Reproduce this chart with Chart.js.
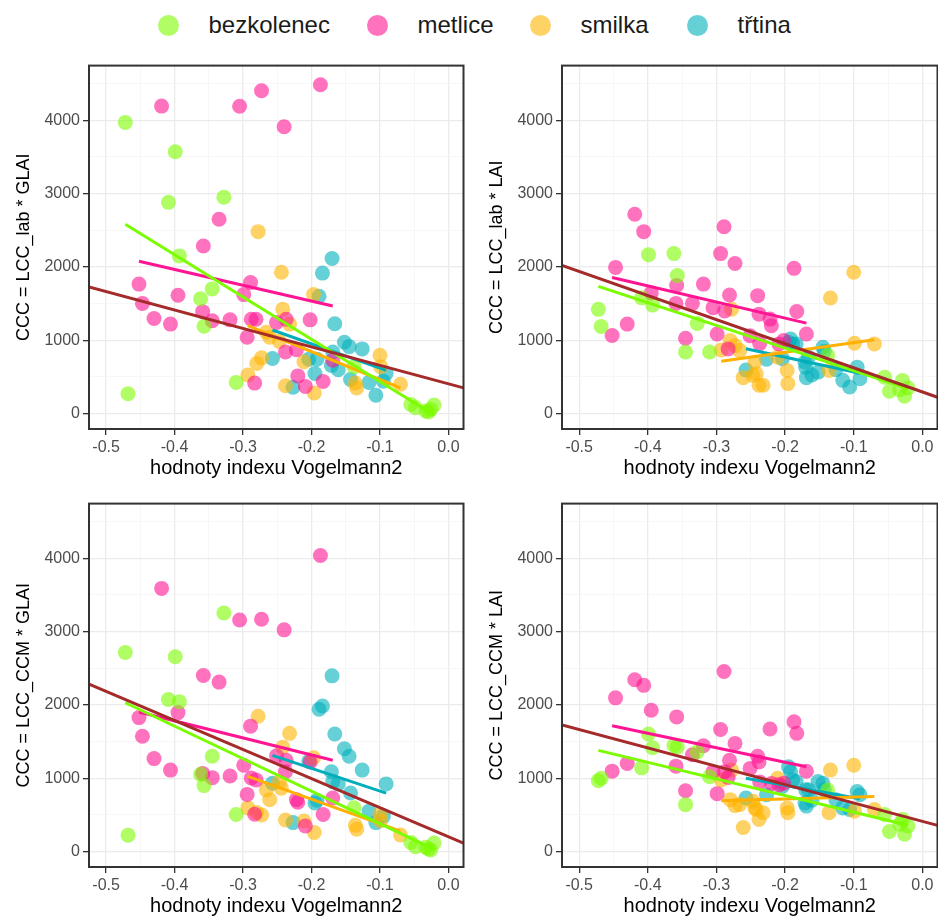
<!DOCTYPE html>
<html>
<head>
<meta charset="utf-8">
<script src="https://cdn.jsdelivr.net/npm/chart.js@4.4.0/dist/chart.umd.min.js"></script>
<style>
  body { margin: 0; background: #fff; width: 938px; height: 917px; overflow: hidden; position: relative;
         font-family: "Liberation Sans", Arial, sans-serif; }
  canvas { position: absolute; }
  .key { position: absolute; top: 13px; height: 24px; display: flex; align-items: center; font-size: 24px; color: #1a1a1a; }
  .dot { width: 21px; height: 21px; border-radius: 50%; margin-right: 30px; }
</style>
</head>
<body>
<div id="legend"></div>
<canvas id="c1" width="471" height="433" style="left:0;top:53px"></canvas>
<canvas id="c2" width="472" height="433" style="left:473px;top:53px"></canvas>
<canvas id="c3" width="471" height="433" style="left:0;top:491px"></canvas>
<canvas id="c4" width="472" height="433" style="left:473px;top:491px"></canvas>
<script>
  /* data
  -----------------------------------------------*/
  const SPECIES = ['bezkolenec', 'metlice', 'smilka', 'třtina'];

  // hodnoty indexu Vogelmann2 (same for all four panels)
  const X_BEZKOLENEC = [-0.472, -0.468, -0.409, -0.399, -0.393, -0.362, -0.357, -0.345, -0.328, -0.310, -0.138, -0.055, -0.048, -0.033, -0.029, -0.026, -0.021];
  const X_METLICE = [-0.452, -0.447, -0.430, -0.419, -0.406, -0.395, -0.359, -0.358, -0.345, -0.335, -0.319, -0.305, -0.299, -0.294, -0.289,
                     -0.288, -0.283, -0.281, -0.273, -0.251, -0.240, -0.238, -0.237, -0.222, -0.220, -0.209, -0.202, -0.187, -0.183, -0.169];
  const X_SMILKA = [-0.293, -0.280, -0.278, -0.273, -0.266, -0.261, -0.247, -0.244, -0.242, -0.238, -0.232, -0.211, -0.197, -0.196, -0.136, -0.134, -0.100, -0.099, -0.070];
  const X_TRTINA = [-0.257, -0.227, -0.204, -0.195, -0.192, -0.189, -0.184, -0.171, -0.170, -0.169, -0.166, -0.161, -0.152, -0.145, -0.143, -0.126, -0.116, -0.106, -0.095, -0.091];

  // CCC = LCC_lab * GLAI
  const LAB_GLAI_BEZKOLENEC = [3970, 270, 2880, 3570, 2150, 1565, 1190, 1700, 2950, 425, 640, 125, 80, 36, 22, 58, 116];
  const LAB_GLAI_METLICE = [1765, 1502, 1296, 4192, 1220, 1613, 1390, 2284, 1265, 2650, 1278, 4190, 1622, 1041, 1788,
                            1287, 416, 1287, 4402, 1242, 3910, 840, 1287, 871, 514, 371, 1278, 4482, 438, 728];
  const LAB_GLAI_SMILKA = [527, 684, 2480, 760, 1108, 1041, 985, 1926, 1421, 380, 1220, 706, 1622, 282, 416, 349, 795, 640, 400];
  const LAB_GLAI_TRTINA = [751, 360, 740, 547, 740, 1600, 1915, 656, 2114, 840, 1225, 598, 972, 913, 465, 882, 425, 250, 440, 547];

  // CCC = LCC_lab * LAI
  const LAB_LAI_BEZKOLENEC = [1421, 1189, 1578, 2167, 1479, 2181, 1881, 840, 1229, 840, 795, 496, 304, 326, 451, 237, 349];
  const LAB_LAI_METLICE = [1064, 1993, 1220, 2717, 2480, 1645, 1502, 1747, 1028, 1502, 1765, 1443, 1085, 2181, 2547,
                           1400, 882, 1617, 2047, 1062, 1608, 1356, 954, 1288, 1197, 950, 995, 1980, 1391, 1085];
  const LAB_LAI_SMILKA = [868, 995, 1423, 927, 859, 490, 521, 700, 544, 386, 386, 769, 589, 409, 589, 1575, 1926, 958, 950];
  const LAB_LAI_TRTINA = [595, 740, 747, 972, 1017, 950, 950, 701, 633, 490, 769, 527, 566, 904, 850, 600, 453, 363, 633, 476];

  // CCC = LCC_CCM * GLAI
  const CCM_GLAI_BEZKOLENEC = [2714, 224, 2074, 2656, 2042, 1053, 900, 1299, 3252, 506, 597, 125, 67, 58, 36, 22, 116];
  const CCM_GLAI_METLICE = [1827, 1572, 1268, 3588, 1111, 1895, 1066, 2401, 1008, 2311, 1030, 3158, 1178, 780, 1710,
                            1003, 510, 977, 3167, 1305, 3023, 1090, 1245, 708, 672, 349, 1222, 4036, 506, 731];
  const CCM_GLAI_SMILKA = [596, 533, 1845, 500, 842, 708, 950, 865, 1424, 430, 1612, 417, 1280, 260, 360, 305, 506, 420, 226];
  const CCM_GLAI_TRTINA = [932, 395, 1232, 664, 700, 1940, 1984, 1088, 2396, 954, 1604, 923, 1402, 1299, 798, 1111, 551, 395, 484, 923];

  // CCC = LCC_CCM * LAI
  const CCM_LAI_BEZKOLENEC = [967, 999, 1142, 1603, 1415, 1447, 1424, 640, 1357, 1021, 840, 506, 273, 372, 439, 237, 349];
  const CCM_LAI_METLICE = [1097, 2096, 1200, 2343, 2266, 1926, 1165, 1836, 829, 1321, 1443, 1088, 790, 1665, 2455,
                           1090, 1010, 1245, 1475, 1134, 1299, 1222, 950, 1671, 930, 910, 932, 1770, 1612, 1095];
  const CCM_LAI_SMILKA = [976, 708, 1110, 627, 641, 328, 685, 596, 573, 439, 529, 999, 596, 529, 529, 1111, 1178, 551, 574];
  const CCM_LAI_TRTINA = [731, 775, 887, 1155, 1088, 977, 954, 664, 842, 620, 842, 700, 954, 932, 842, 708, 596, 573, 820, 775];

  // linear fits: x range of each group, y at both ends per panel
  const FIT_X = [[-0.472, -0.021], [-0.452, -0.169], [-0.293, -0.070], [-0.257, -0.091]];
  const FIT_LAB_GLAI = [[2580, -20], [2078, 1466], [1198, 349], [1140, 590]];
  const FIT_LAB_LAI = [[1735, 340], [1855, 1233], [715, 1006], [885, 550]];
  const FIT_CCM_GLAI = [[2029, 30], [1904, 1245], [1025, 280], [1312, 798]];
  const FIT_CCM_LAI = [[1380, 360], [1715, 1156], [694, 752], [999, 720]];

  // fit over all species, across the whole panel
  const ALL_X = [-0.525, 0.022];
  const ALL_LAB_GLAI = [1726, 351];
  const ALL_LAB_LAI = [2019, 223];
  const ALL_CCM_GLAI = [2283, 116];
  const ALL_CCM_LAI = [1727, 358];

  // axes
  const X_MAJOR = [-0.5, -0.4, -0.3, -0.2, -0.1, 0.0];
  const X_LABELS = ['-0.5', '-0.4', '-0.3', '-0.2', '-0.1', '0.0'];
  const X_MINOR = [-0.45, -0.35, -0.25, -0.15, -0.05];
  const Y_MAJOR = [0, 1000, 2000, 3000, 4000];
  const Y_LABELS = ['0', '1000', '2000', '3000', '4000'];
  const Y_MINOR = [500, 1500, 2500, 3500, 4500];

  /* styles
  -----------------------------------------------*/
  const POINT_COLORS = ['rgba(124,252,0,0.6)', 'rgba(255,20,147,0.6)', 'rgba(255,180,0,0.6)', 'rgba(0,176,188,0.6)'];
  const LINE_COLORS = ['#7CFC00', '#FF1493', '#FFB000', '#00AEBB'];
  const TREND_COLOR = '#A52A2A';
  const LEGEND_X = [168, 377, 540, 697];

  Chart.defaults.font.family = '"Liberation Sans", Arial, sans-serif';

  // legend
  let legend = document.getElementById('legend');
  SPECIES.forEach(function(name, k) {
    let item = document.createElement('div');
    item.className = 'key';
    item.style.left = (LEGEND_X[k] - 10.5) + 'px';
    item.innerHTML = '<span class="dot" style="background:' + POINT_COLORS[k] + '"></span>' + name;
    legend.appendChild(item);
  });

  /* panels
  -----------------------------------------------*/
  function near(list, v) {
    return list.findIndex(function(m) { return Math.abs(m - v) < 1e-9; });
  }

  // theme_bw like border
  const frame = {
    id: 'frame',
    afterDatasetsDraw: function(chart) {
      let a = chart.chartArea, ctx = chart.ctx;
      ctx.save();
      ctx.strokeStyle = '#333333';
      ctx.lineWidth = 2;
      ctx.strokeRect(a.left, a.top, a.right - a.left, a.bottom - a.top);
      ctx.restore();
    }
  };

  function pts(xs, ys) {
    return xs.map(function(x, i) { return {x: x, y: ys[i]}; });
  }

  function panel(id, yTitle, ys, fit, all) {
    let xs = [X_BEZKOLENEC, X_METLICE, X_SMILKA, X_TRTINA];
    let datasets = [{
      data: [{x: ALL_X[0], y: all[0]}, {x: ALL_X[1], y: all[1]}],
      showLine: true, borderColor: TREND_COLOR, borderWidth: 3, pointRadius: 0, order: 0
    }];
    SPECIES.forEach(function(s, k) {
      datasets.push({
        data: [{x: FIT_X[k][0], y: fit[k][0]}, {x: FIT_X[k][1], y: fit[k][1]}],
        showLine: true, borderColor: LINE_COLORS[k], borderWidth: 3, pointRadius: 0, order: 1
      });
    });
    SPECIES.forEach(function(s, k) {
      datasets.push({
        label: s, data: pts(xs[k], ys[k]),
        backgroundColor: POINT_COLORS[k], borderWidth: 0, pointRadius: 7.5, order: 2
      });
    });

    let gridX = {
      color: function(c) { return near(X_MAJOR, c.tick.value) >= 0 ? '#EBEBEB' : '#F4F4F4'; },
      lineWidth: function(c) { return near(X_MAJOR, c.tick.value) >= 0 ? 1.3 : 0.7; },
      tickColor: function(c) { return near(X_MAJOR, c.tick.value) >= 0 ? '#333333' : 'rgba(0,0,0,0)'; },
      tickLength: 6, tickWidth: 1.3
    };
    let gridY = {
      color: function(c) { return near(Y_MAJOR, c.tick.value) >= 0 ? '#EBEBEB' : '#F4F4F4'; },
      lineWidth: function(c) { return near(Y_MAJOR, c.tick.value) >= 0 ? 1.3 : 0.7; },
      tickColor: function(c) { return near(Y_MAJOR, c.tick.value) >= 0 ? '#333333' : 'rgba(0,0,0,0)'; },
      tickLength: 6, tickWidth: 1.3
    };

    new Chart(document.getElementById(id), {
      type: 'scatter',
      data: {datasets: datasets},
      plugins: [frame],
      options: {
        responsive: false, animation: false, devicePixelRatio: 1,
        layout: {padding: 0},
        plugins: {legend: {display: false}, tooltip: {enabled: false}},
        scales: {
          x: {
            type: 'linear', min: -0.525, max: 0.022,
            afterBuildTicks: function(s) {
              s.ticks = X_MAJOR.concat(X_MINOR).sort(function(a, b) { return a - b; })
                .map(function(v) { return {value: v}; });
            },
            afterFit: function(s) { s.height = 57; },
            border: {display: false},
            grid: gridX,
            ticks: {
              autoSkip: false, maxRotation: 0, padding: 3, color: '#4D4D4D', font: {size: 16},
              callback: function(v) { let i = near(X_MAJOR, v); return i >= 0 ? X_LABELS[i] : ''; }
            },
            title: {display: true, text: 'hodnoty indexu Vogelmann2', color: '#000', font: {size: 20},
                    padding: {top: 0, bottom: 6}}
          },
          y: {
            type: 'linear', min: -210, max: 4744,
            afterBuildTicks: function(s) {
              s.ticks = Y_MAJOR.concat(Y_MINOR).sort(function(a, b) { return a - b; })
                .map(function(v) { return {value: v}; });
            },
            afterFit: function(s) { s.width = 89; },
            border: {display: false},
            grid: gridY,
            ticks: {
              autoSkip: false, padding: 3, color: '#4D4D4D', font: {size: 16},
              callback: function(v) { let i = near(Y_MAJOR, v); return i >= 0 ? Y_LABELS[i] : ''; }
            },
            title: {display: true, text: yTitle, color: '#000', font: {size: 18}, padding: {top: 13, bottom: 0}}
          }
        }
      }
    });
  }

  panel('c1', 'CCC = LCC_lab * GLAI',
        [LAB_GLAI_BEZKOLENEC, LAB_GLAI_METLICE, LAB_GLAI_SMILKA, LAB_GLAI_TRTINA], FIT_LAB_GLAI, ALL_LAB_GLAI);
  panel('c2', 'CCC = LCC_lab * LAI',
        [LAB_LAI_BEZKOLENEC, LAB_LAI_METLICE, LAB_LAI_SMILKA, LAB_LAI_TRTINA], FIT_LAB_LAI, ALL_LAB_LAI);
  panel('c3', 'CCC = LCC_CCM * GLAI',
        [CCM_GLAI_BEZKOLENEC, CCM_GLAI_METLICE, CCM_GLAI_SMILKA, CCM_GLAI_TRTINA], FIT_CCM_GLAI, ALL_CCM_GLAI);
  panel('c4', 'CCC = LCC_CCM * LAI',
        [CCM_LAI_BEZKOLENEC, CCM_LAI_METLICE, CCM_LAI_SMILKA, CCM_LAI_TRTINA], FIT_CCM_LAI, ALL_CCM_LAI);
</script>
</body>
</html>
